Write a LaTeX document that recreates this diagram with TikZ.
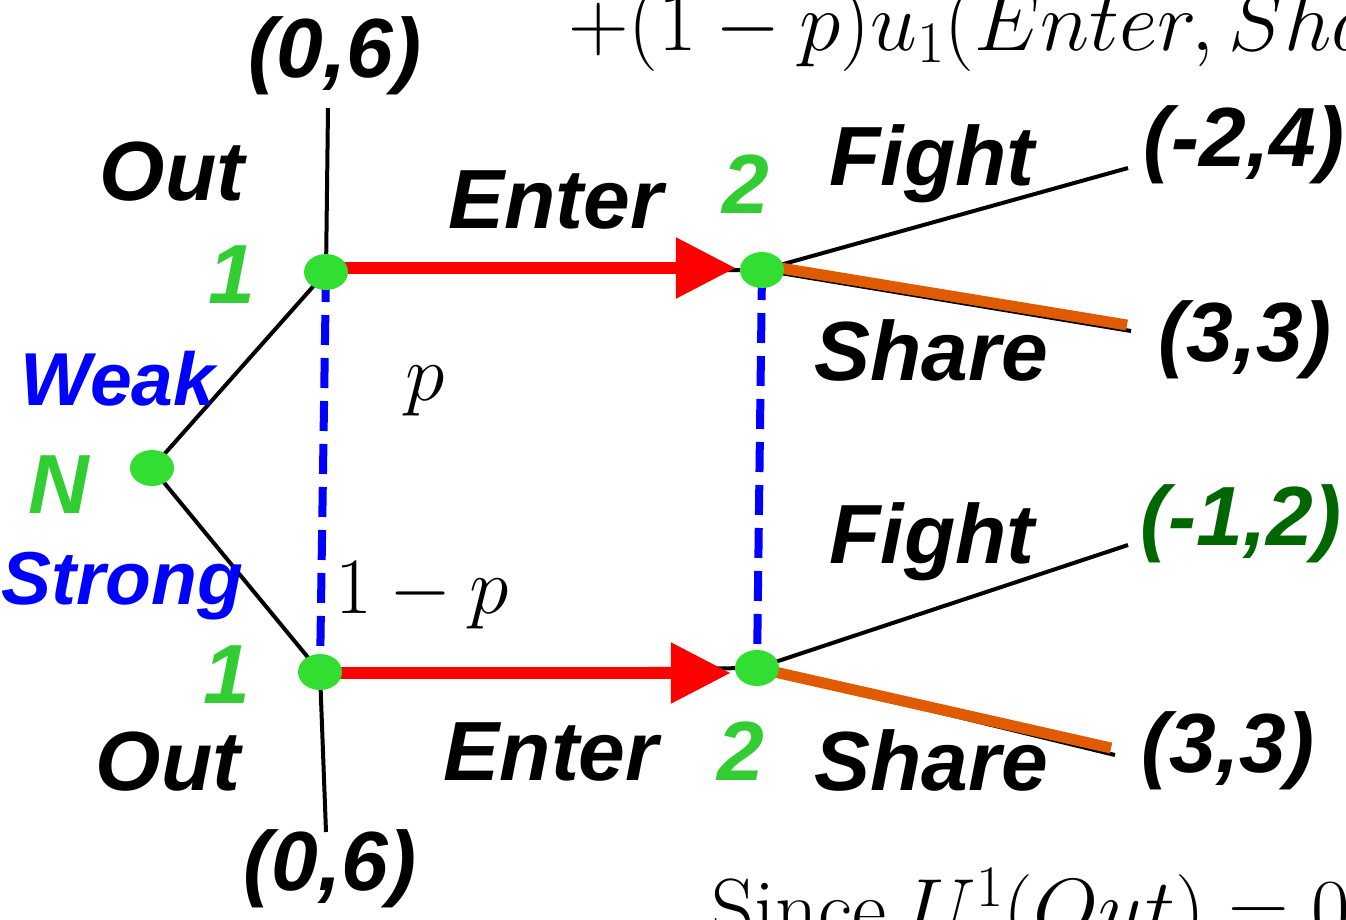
\RequirePackage{fix-cm}
\documentclass[tikz,border=0pt]{standalone}
\usepackage{fontspec}
\newfontfamily\af{Liberation Sans}
\usetikzlibrary{arrows.meta,shapes.geometric,backgrounds,calc}
\definecolor{nodegreen}{RGB}{50,222,50}
\definecolor{txtgreen}{RGB}{50,205,50}
\definecolor{dkgreen}{RGB}{0,102,0}
\definecolor{orng}{RGB}{224,90,0}
\begin{document}
\begin{tikzpicture}[x=1pt,y=-1pt,
  dec/.style={ellipse, fill=nodegreen, minimum width=44pt, minimum height=36pt, inner sep=0pt},
  lbl/.style={inner sep=0pt, font=\af\bfseries\itshape\fontsize{84}{90}\selectfont},
  sml/.style={inner sep=0pt, font=\af\bfseries\itshape\fontsize{75}{82}\selectfont},
  edge/.style={line width=4pt, black},
  enter/.style={line width=12pt, red, -{Triangle[length=60pt,width=58pt]}},
  share/.style={line width=11pt, orng},
  info/.style={line width=8pt, blue, dash pattern=on 30pt off 13pt},
  mth/.style={inner sep=0pt, font=\fontsize{80}{90}\selectfont},
  bigmth/.style={inner sep=0pt, font=\fontsize{84}{94}\selectfont}
]
\useasboundingbox (0,0) rectangle (1346,919);
\clip (0,0) rectangle (1346,919);

\node[dec] (N) at (152,468) {};
\node[dec] (A) at (326,272) {};
\node[dec] (B) at (320,672) {};
\node[dec] (C) at (762,270) {};
\node[dec] (D) at (757,668) {};
\coordinate (T1) at (328,108);
\coordinate (T2) at (326,832);
\coordinate (F1) at (1128,168);
\coordinate (S1) at (1131,331);
\coordinate (O1) at (1127,325);
\coordinate (F2) at (1128,545);
\coordinate (S2) at (1115,755);
\coordinate (O2) at (1111,748);

\begin{scope}[on background layer]
\draw[edge] (N.center) -- (A.center);
\draw[edge] (N.center) -- (B.center);
\draw[edge] (A.center) -- (T1);
\draw[edge] (B.center) -- (T2);
\draw[edge] (A.center) -- (C.center);
\draw[edge] (B.center) -- (D.center);
\draw[edge] (C.center) -- (F1);
\draw[edge] (C.center) -- (S1);
\draw[edge] (D.center) -- (F2);
\draw[edge] (D.center) -- (S2);
\draw[enter] ([yshift=4pt]A.center) -- ($([yshift=4pt]A.center -| C.west)+(-4,0)$);
\draw[enter] ([yshift=-1pt]B.center) -- ($([yshift=-1pt]B.center -| D.west)+(-4,0)$);
\draw[share] ([yshift=5pt]C.center) -- (O1);
\draw[share] (D.center) -- (O2);
\draw[info] (A.center) -- (B.center);
\draw[info] (C.center) -- (D.center);
\end{scope}

\node[bigmth, anchor=base west] (eq1) at (568,50) {$+(1-p)u_1(Enter,Share)$};
\node[bigmth, anchor=base west] (eq2) at (711,937) {$\mathrm{Since}\ U^1(Out)=0$};
\node[mth, anchor=base] (plab) at (425,400) {$p$};
\node[mth, anchor=base] (qlab) at (422,613) {$1-p$};

\node[lbl] (pay1) at (335,56) {(0,6)};
\node[lbl, anchor=base] (out1) at (172,200) {Out};
\node[lbl, anchor=base, text=txtgreen] (one1) at (232,303) {1};
\node[sml, anchor=base, text=blue] (weak) at (118,405) {Weak};
\node[lbl, anchor=base, text=txtgreen] (nlab) at (59,513) {N};
\node[sml, anchor=base, text=blue] (strong) at (122,604) {Strong};
\node[lbl, anchor=base, text=txtgreen] (one2) at (227,703) {1};
\node[lbl, anchor=base] (out2) at (168,790) {Out};
\node[lbl] (pay2) at (330,869) {(0,6)};
\node[lbl, anchor=base] (ent1) at (556,228) {Enter};
\node[lbl, anchor=base, text=txtgreen] (two1) at (746,213) {2};
\node[lbl, anchor=base] (fi1) at (932,185) {Fight};
\node[lbl] (pay3) at (1244,145) {(-2,4)};
\node[lbl, anchor=base] (sh1) at (931,380) {Share};
\node[lbl] (pay4) at (1245,340) {(3,3)};
\node[lbl, anchor=base] (fi2) at (932,563) {Fight};
\node[lbl, text=dkgreen] (pay5) at (1241,524) {(-1,2)};
\node[lbl, anchor=base] (ent2) at (551,780) {Enter};
\node[lbl, anchor=base, text=txtgreen] (two2) at (741,780) {2};
\node[lbl, anchor=base] (sh2) at (931,790) {Share};
\node[lbl] (pay6) at (1228,751) {(3,3)};
\end{tikzpicture}
\end{document}
